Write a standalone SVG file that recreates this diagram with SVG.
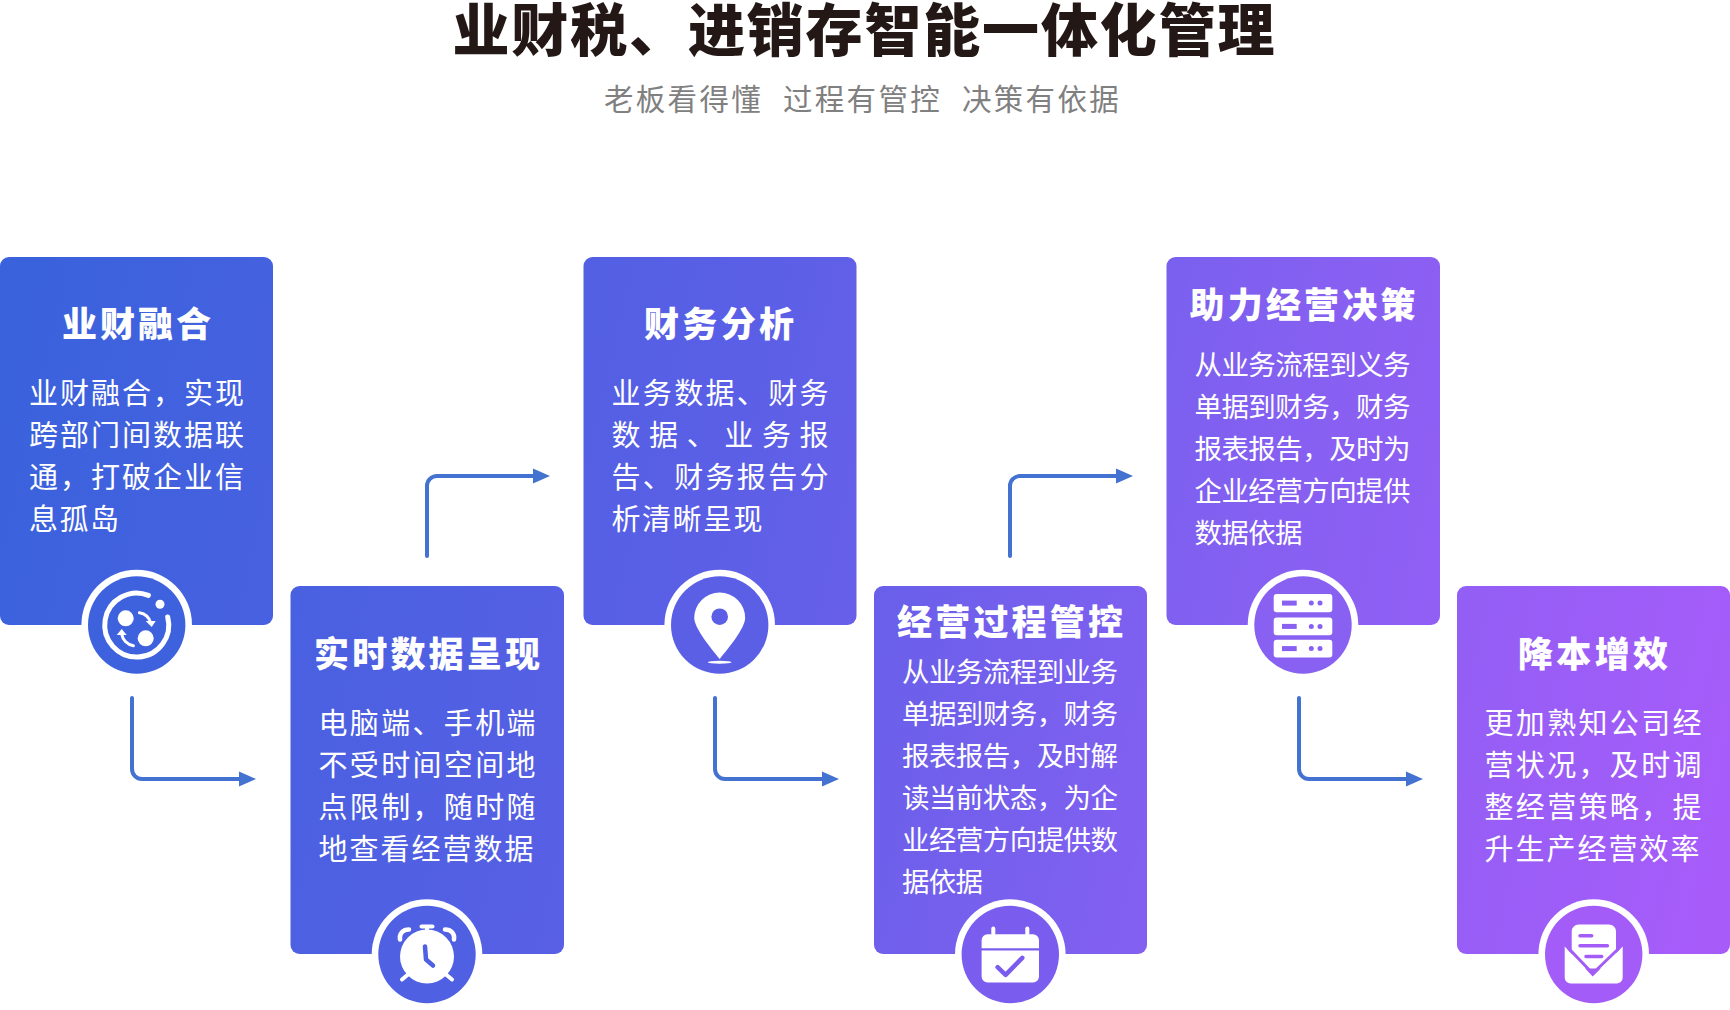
<svg xmlns="http://www.w3.org/2000/svg" width="1730" height="1010" viewBox="0 0 1730 1010">
<defs>
<linearGradient id="g" gradientUnits="userSpaceOnUse" x1="0" y1="400" x2="1730" y2="800"><stop offset="0" stop-color="#3a62dc"/><stop offset="0.4" stop-color="#5a5fe6"/><stop offset="0.7" stop-color="#8460f1"/><stop offset="1" stop-color="#a75cfa"/></linearGradient>
<marker id="ah" markerUnits="userSpaceOnUse" markerWidth="20" markerHeight="18" refX="3" refY="9" orient="auto"><path d="M0 1.500L17 9L0 16.500Z" fill="#4472d0"/></marker>
</defs>
<style>
text{font-family:"Noto Sans CJK SC","Noto Sans",sans-serif}
.t{font-size:57px;font-weight:900;fill:#231815}
.s{font-size:29.500px;fill:#808080;letter-spacing:2.300px}
.h{font-size:35px;font-weight:900;fill:#fff}
.b{font-size:29px;fill:#fff}
.n{font-size:27.500px;fill:#fff}
.card{fill:url(#g)}
.ring{fill:#fff}
.w{fill:#fff}
.ws{fill:none;stroke:#fff;stroke-linecap:round;stroke-linejoin:round}
.c{fill:none;stroke:#4472d0;stroke-width:4;stroke-linecap:round;marker-end:url(#ah)}
</style>
<rect width="1730" height="1010" fill="#fff"/>
<g id="header">
<text class="t" x="452.500" y="51" textLength="822">业财税、进销存智能一体化管理</text>
<text class="s" x="604" y="110">老板看得懂</text>
<text class="s" x="783" y="110">过程有管控</text>
<text class="s" x="962" y="110">决策有依据</text>
</g>
<g id="connectors">
<path class="c" d="M132 698V769a10 10 0 0 0 10 10H242"/>
<path class="c" d="M427 556V486a10 10 0 0 1 10-10H536"/>
<path class="c" d="M715 698V769a10 10 0 0 0 10 10H825"/>
<path class="c" d="M1010 556V486a10 10 0 0 1 10-10H1119"/>
<path class="c" d="M1299 698V769a10 10 0 0 0 10 10H1409"/>
</g>
<g id="node1">
<rect class="card" x="0" y="257" width="273" height="368" rx="9"/>
<text class="h" x="62" y="337" textLength="149">业财融合</text>
<text class="b" x="29" y="404" textLength="215">业财融合，实现</text>
<text class="b" x="29" y="446" textLength="215">跨部门间数据联</text>
<text class="b" x="29" y="488" textLength="215">通，打破企业信</text>
<text class="b" x="29" y="530" textLength="90">息孤岛</text>
<circle class="ring" cx="136.700" cy="625" r="55.300"/>
<circle cx="136.700" cy="625" r="48.700" fill="#3e62de"/>
<g transform="translate(136.700 625)">
<path class="ws" stroke-width="5" d="M11.700-29.700A32 32 0 1 0 31-8"/>
<circle class="w" cx="23.300" cy="-20.700" r="4.500"/>
<circle class="w" cx="-11" cy="-6.700" r="8"/>
<circle class="w" cx="9" cy="13.300" r="8"/>
<path class="ws" stroke-width="3" d="M2.700-12.300A14 14 0 0 1 14-2"/>
<path class="w" d="M9-4L19-4L15 2Z"/>
<path class="ws" stroke-width="3" d="M-3.300 20.700A14 14 0 0 1 -15 9"/>
<path class="w" d="M-20 10L-10 10L-15 4Z"/>
</g>
</g>
<g id="node2">
<rect class="card" x="290.500" y="586" width="273.500" height="368" rx="9"/>
<text class="h" x="314" y="667" textLength="226">实时数据呈现</text>
<text class="b" x="318.500" y="733.500" textLength="217">电脑端、手机端</text>
<text class="b" x="318.500" y="775.500" textLength="217">不受时间空间地</text>
<text class="b" x="318.500" y="817.500" textLength="217">点限制，随时随</text>
<text class="b" x="318.500" y="859.500" textLength="215">地查看经营数据</text>
<circle class="ring" cx="427" cy="954.500" r="55.300"/>
<circle cx="427" cy="954.500" r="48.700" fill="#4f60e3"/>
<g transform="translate(427 954.500)">
<circle class="w" cx="0" cy="2" r="27"/>
<rect class="w" x="-7.500" y="-30" width="15" height="4" rx="2"/>
<rect class="w" x="-2" y="-28" width="4" height="6"/>
<path class="ws" stroke-width="4.500" d="M-27-15C-28-21-24-25-18-25"/>
<path class="ws" stroke-width="4.500" d="M27-15C28-21 24-25 18-25"/>
<path class="ws" stroke-width="4" d="M-25 25L-19 20M25 25L19 20"/>
<path fill="none" stroke="#4f60e3" stroke-width="4.500" stroke-linecap="round" stroke-linejoin="round" d="M-2-8L-1 5L6 11"/>
</g>
</g>
<g id="node3">
<rect class="card" x="583.500" y="257" width="273" height="368" rx="9"/>
<text class="h" x="644" y="337" textLength="150">财务分析</text>
<text class="b" x="611.500" y="404" textLength="217">业务数据、财务</text>
<text class="b" x="611.500" y="446" textLength="217">数据、业务报</text>
<text class="b" x="611.500" y="488" textLength="217">告、财务报告分</text>
<text class="b" x="611.500" y="530" textLength="151">析清晰呈现</text>
<circle class="ring" cx="719.700" cy="625" r="55.300"/>
<circle cx="719.700" cy="625" r="48.700" fill="#5b5fe6"/>
<g transform="translate(719.700 625)">
<path class="w" d="M0 34C-8 24-25 4-25.500-7A25.500 25.500 0 1 1 25.500-7C25 4 8 24 0 34Z"/>
<circle cx="0" cy="-8.300" r="8.300" fill="#5b5fe6"/>
<ellipse class="w" cx="0" cy="37.300" rx="12" ry="1.500"/>
</g>
</g>
<g id="node4">
<rect class="card" x="874" y="586" width="273" height="368" rx="9"/>
<text class="h" x="897" y="635" textLength="226">经营过程管控</text>
<text class="n" x="902" y="681.500" textLength="216">从业务流程到业务</text>
<text class="n" x="902" y="723.500" textLength="216">单据到财务，财务</text>
<text class="n" x="902" y="765.500" textLength="216">报表报告，及时解</text>
<text class="n" x="902" y="807.500" textLength="216">读当前状态，为企</text>
<text class="n" x="902" y="849.500" textLength="216">业经营方向提供数</text>
<text class="n" x="902" y="891.500" textLength="81">据依据</text>
<circle class="ring" cx="1010.300" cy="954.500" r="55.300"/>
<circle cx="1010.300" cy="954.500" r="48.700" fill="#7a5def"/>
<g transform="translate(1010.300 954.500)">
<path class="w" d="M-22.700-20.300H22.700a6 6 0 0 1 6 6V-6.300H-28.700V-14.300a6 6 0 0 1 6-6Z"/>
<path class="w" d="M-28.700-4H28.700V22a6 6 0 0 1-6 6H-22.700a6 6 0 0 1-6-6Z"/>
<rect class="w" x="-19" y="-28" width="4" height="9" rx="2"/>
<rect class="w" x="15" y="-28" width="4" height="9" rx="2"/>
<path fill="none" stroke="#7a5def" stroke-width="4.500" stroke-linecap="round" stroke-linejoin="round" d="M-12.700 12.700L-4.700 20.300L12 3.300"/>
</g>
</g>
<g id="node5">
<rect class="card" x="1166.500" y="257" width="273.500" height="368" rx="9"/>
<text class="h" x="1189.500" y="318" textLength="226">助力经营决策</text>
<text class="n" x="1194.500" y="374.500" textLength="216">从业务流程到义务</text>
<text class="n" x="1194.500" y="416.500" textLength="216">单据到财务，财务</text>
<text class="n" x="1194.500" y="458.500" textLength="216">报表报告，及时为</text>
<text class="n" x="1194.500" y="500.500" textLength="216">企业经营方向提供</text>
<text class="n" x="1194.500" y="542.500" textLength="108">数据依据</text>
<circle class="ring" cx="1303" cy="625" r="55.300"/>
<circle cx="1303" cy="625" r="48.700" fill="#8860f2"/>
<g transform="translate(1303 625)">
<rect class="w" x="-29.300" y="-31" width="58.600" height="18.300" rx="3"/>
<rect class="w" x="-29.300" y="-7.500" width="58.600" height="17.700" rx="3"/>
<rect class="w" x="-29.300" y="14.700" width="58.600" height="17.700" rx="3"/>
<g fill="#8860f2">
<rect x="-21" y="-24.400" width="14.700" height="5"/><circle cx="8.300" cy="-21.900" r="2.500"/><circle cx="17" cy="-21.900" r="2.500"/>
<rect x="-21" y="-1.100" width="14.700" height="5"/><circle cx="8.300" cy="1.400" r="2.500"/><circle cx="17" cy="1.400" r="2.500"/>
<rect x="-21" y="21.100" width="14.700" height="5"/><circle cx="8.300" cy="23.600" r="2.500"/><circle cx="17" cy="23.600" r="2.500"/>
</g>
</g>
</g>
<g id="node6">
<rect class="card" x="1457" y="586" width="273" height="368" rx="9"/>
<text class="h" x="1518" y="667" textLength="150">降本增效</text>
<text class="b" x="1484.500" y="733.500" textLength="217">更加熟知公司经</text>
<text class="b" x="1484.500" y="775.500" textLength="217">营状况，及时调</text>
<text class="b" x="1484.500" y="817.500" textLength="217">整经营策略，提</text>
<text class="b" x="1484.500" y="859.500" textLength="215">升生产经营效率</text>
<circle class="ring" cx="1593.700" cy="954.500" r="55.300"/>
<circle cx="1593.700" cy="954.500" r="48.700" fill="#a35cf8"/>
<g transform="translate(1593.700 954.500)">
<path class="w" d="M-22 14V-23a7 7 0 0 1 7-7H15.300a7 7 0 0 1 7 7V14Z"/>
<path class="w" d="M-29-8V23a6 6 0 0 0 6 6H23a6 6 0 0 0 6-6V-8L-1 22Z"/>
<path fill="none" stroke="#a35cf8" stroke-width="3" stroke-linecap="round" stroke-linejoin="round" d="M-25-6L-1 19L25-6"/>
<path fill="none" stroke="#a35cf8" stroke-width="3.500" stroke-linecap="round" d="M-13.700-18.700H-2M-13.700-8.700H13.700M-7.700 2H8"/>
</g>
</g>
</svg>
